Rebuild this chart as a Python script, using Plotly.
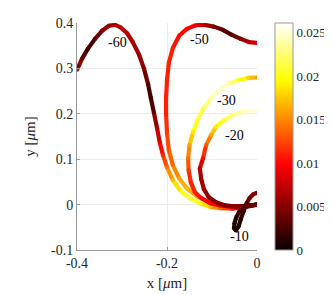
import plotly.graph_objects as go
from plotly.colors import sample_colorscale

# ---- data (x, y in micrometres; v = colour value along each trajectory) ----
labels = ["-60", "-50", "-30", "-20", "-10"]

x_m60 = [0.000, -0.027, -0.056, -0.082, -0.104, -0.127, -0.149, -0.169, -0.187, -0.200,
         -0.209, -0.216, -0.222, -0.229, -0.236, -0.242, -0.251, -0.262, -0.276, -0.289,
         -0.304, -0.316, -0.329, -0.344, -0.360, -0.376, -0.389, -0.400]
y_m60 = [0.000, -0.006, -0.009, -0.008, -0.005, 0.003, 0.014, 0.029, 0.054, 0.082,
         0.109, 0.137, 0.168, 0.202, 0.235, 0.265, 0.299, 0.330, 0.358, 0.378,
         0.391, 0.396, 0.394, 0.383, 0.365, 0.343, 0.321, 0.297]
v_m60 = [0.006, 0.008, 0.011, 0.014, 0.017, 0.020, 0.021, 0.020, 0.017, 0.014,
         0.011, 0.009, 0.007, 0.004, 0.002, 0.003, 0.005, 0.006, 0.006, 0.007,
         0.007, 0.007, 0.006, 0.005, 0.003, 0.002, 0.004, 0.007]

x_m50 = [0.000, -0.027, -0.056, -0.082, -0.109, -0.133, -0.156, -0.173, -0.187, -0.196,
         -0.200, -0.202, -0.202, -0.200, -0.196, -0.187, -0.173, -0.156, -0.136, -0.116,
         -0.096, -0.076, -0.056, -0.036, -0.018, 0.000]
y_m50 = [0.000, -0.004, -0.004, 0.000, 0.007, 0.018, 0.036, 0.058, 0.087, 0.120,
         0.158, 0.198, 0.235, 0.274, 0.312, 0.345, 0.372, 0.387, 0.395, 0.396,
         0.392, 0.385, 0.374, 0.365, 0.358, 0.356]
v_m50 = [0.006, 0.008, 0.010, 0.012, 0.014, 0.016, 0.017, 0.016, 0.014, 0.013,
         0.012, 0.011, 0.011, 0.011, 0.011, 0.011, 0.010, 0.010, 0.009, 0.007,
         0.005, 0.003, 0.003, 0.005, 0.007, 0.009]

x_m30 = [0.000, -0.027, -0.056, -0.082, -0.104, -0.122, -0.138, -0.147, -0.152, -0.153,
         -0.150, -0.142, -0.131, -0.118, -0.102, -0.084, -0.064, -0.042, -0.020, 0.000]
y_m30 = [0.000, -0.004, -0.005, -0.002, 0.003, 0.013, 0.027, 0.049, 0.076, 0.102,
         0.131, 0.160, 0.188, 0.213, 0.235, 0.252, 0.266, 0.274, 0.279, 0.280]
v_m30 = [0.004, 0.006, 0.008, 0.009, 0.010, 0.010, 0.011, 0.011, 0.012, 0.014,
         0.016, 0.019, 0.021, 0.022, 0.024, 0.025, 0.024, 0.021, 0.018, 0.016]

x_m20 = [0.000, -0.022, -0.047, -0.071, -0.091, -0.107, -0.118, -0.124, -0.127, -0.120,
         -0.113, -0.102, -0.091, -0.073, -0.053, -0.033, -0.016, 0.000]
y_m20 = [0.000, -0.003, -0.004, -0.002, 0.005, 0.016, 0.034, 0.056, 0.080, 0.102,
         0.131, 0.153, 0.171, 0.186, 0.197, 0.204, 0.206, 0.207]
v_m20 = [0.003, 0.004, 0.005, 0.005, 0.005, 0.005, 0.006, 0.006, 0.007, 0.010,
         0.013, 0.016, 0.019, 0.021, 0.023, 0.024, 0.025, 0.025]

x_m10 = [0.000, -0.016, -0.029, -0.039, -0.046, -0.050, -0.051, -0.047, -0.041, -0.036,
         -0.030, -0.023, -0.016, -0.008, 0.000]
y_m10 = [0.000, -0.002, -0.006, -0.015, -0.028, -0.041, -0.052, -0.057, -0.048, -0.032,
         -0.015, 0.003, 0.015, 0.023, 0.026]
v_m10 = [0.004, 0.004, 0.003, 0.002, 0.001, 0.001, 0.001, 0.001, 0.001, 0.001,
         0.002, 0.003, 0.004, 0.005, 0.005]

label_x = [-0.311, -0.127, -0.067, -0.049, -0.038]
label_y = [0.358, 0.363, 0.229, 0.152, -0.071]

x_ticks = [-0.4, -0.2, 0]
x_ticktext = ["-0.4", "-0.2", "0"]
y_ticks = [-0.1, 0, 0.1, 0.2, 0.3, 0.4]
y_ticktext = ["-0.1", "0", "0.1", "0.2", "0.3", "0.4"]
cb_ticks = [0, 0.005, 0.01, 0.015, 0.02, 0.025]
cb_ticktext = ["0", "0.005", "0.01", "0.015", "0.02", "0.025"]
c_min, c_max = 0.0, 0.0261

# ---- styling ----
hot = [[0.0, "rgb(10,0,0)"], [0.375, "rgb(255,0,0)"],
       [0.75, "rgb(255,255,0)"], [1.0, "rgb(255,255,255)"]]
FONT = "Liberation Serif"
LW = 4.2

curves = [(x_m60, y_m60, v_m60), (x_m50, y_m50, v_m50), (x_m30, y_m30, v_m30),
          (x_m20, y_m20, v_m20), (x_m10, y_m10, v_m10)]

def col(v):
    t = min(max((v - c_min) / (c_max - c_min), 0), 1)
    return sample_colorscale(hot, [t])[0]

fig = go.Figure()
for xs, ys, vs in curves:
    for i in range(len(xs) - 1):
        fig.add_trace(go.Scatter(
            x=[xs[i], xs[i + 1]], y=[ys[i], ys[i + 1]], mode="lines",
            line=dict(color=col((vs[i] + vs[i + 1]) / 2), width=LW),
            hoverinfo="skip", showlegend=False))
    fig.add_trace(go.Scatter(
        x=xs, y=ys, mode="markers",
        marker=dict(size=LW, color=vs, colorscale=hot, cmin=c_min, cmax=c_max,
                    line=dict(width=0)),
        hoverinfo="skip", showlegend=False))

# colour bar carrier
fig.add_trace(go.Scatter(
    x=[0, 0], y=[0, 0], mode="markers",
    marker=dict(size=0.1, opacity=0, color=[c_min, c_max], colorscale=hot,
                cmin=c_min, cmax=c_max, showscale=True,
                colorbar=dict(x=1.1, xanchor="left", y=0.5, yanchor="middle",
                              len=1.0, lenmode="fraction", thickness=18,
                              xpad=0, ypad=0,
                              outlinecolor="#9a9a9a", outlinewidth=1,
                              tickmode="array",
                              tickvals=cb_ticks, ticktext=cb_ticktext,
                              ticks="",
                              tickfont=dict(family=FONT, size=13, color="#262626"))),
    hoverinfo="skip", showlegend=False))

for t, lx, ly in zip(labels, label_x, label_y):
    fig.add_annotation(x=lx, y=ly, text=t, showarrow=False,
                       font=dict(family=FONT, size=14, color="black"),
                       bgcolor="rgba(0,0,0,0)")

# page body adds an 8px offset, so the figure is 8px smaller and shifted margins
fig.update_layout(
    width=324, height=287,
    margin=dict(l=69, r=75, t=15, b=45, autoexpand=False),
    paper_bgcolor="white", plot_bgcolor="white",
    font=dict(family=FONT, size=13, color="#262626"),
    xaxis=dict(range=[-0.4, 0], tickmode="array", tickvals=x_ticks, ticktext=x_ticktext,
               automargin=False,
               showgrid=True, gridcolor="#ebebeb", gridwidth=1, zeroline=False,
               showline=True, linecolor="#9a9a9a", linewidth=1,
               ticks="inside", ticklen=3, tickcolor="#9a9a9a",
               tickfont=dict(family=FONT, size=14, color="#262626"),
               title=dict(text="x [<i>μ</i>m]", standoff=7,
                          font=dict(family=FONT, size=15, color="#262626"))),
    yaxis=dict(range=[-0.1, 0.4], tickmode="array", tickvals=y_ticks, ticktext=y_ticktext,
               automargin=False,
               showgrid=True, gridcolor="#ebebeb", gridwidth=1, zeroline=False,
               showline=True, linecolor="#9a9a9a", linewidth=1,
               ticks="inside", ticklen=3, tickcolor="#9a9a9a",
               tickfont=dict(family=FONT, size=14, color="#262626"),
               title=dict(text="y [<i>μ</i>m]", standoff=11,
                          font=dict(family=FONT, size=15, color="#262626"))),
)

fig.write_html("out.html")
